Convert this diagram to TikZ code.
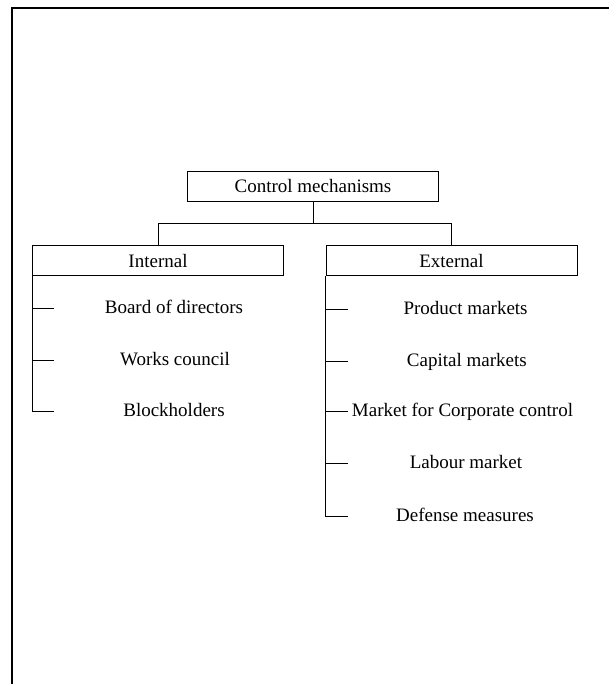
\documentclass[tikz,border=0pt]{standalone}
\usepackage{fontspec}
\setmainfont{Liberation Serif}
\usepackage{tikz}
\usetikzlibrary{positioning,calc}

\begin{document}
\begin{tikzpicture}[
    x=1pt, y=1pt,
    box/.style={rectangle, draw, line width=0.8pt, inner sep=0pt, minimum width=251pt, minimum height=30pt, font=\fontsize{19}{22}\selectfont},
    item/.style={anchor=base, inner sep=0pt, font=\fontsize{19}{22}\selectfont},
    link/.style={line width=0.8pt},
    frame/.style={line width=2pt}
]
    \useasboundingbox (0,0) rectangle (609,-684);
    \draw[frame] (12,-684) -- (12,-7.7) -- (609,-7.7);

    \node[box] (ctrl) at (313,-186) {Control mechanisms};
    \node[box, below=44pt of ctrl, xshift=-155pt] (int) {Internal};
    \node[box, below=44pt of ctrl, xshift=138.5pt] (ext) {External};

    % internal items
    \node[item] (b1) at (174,-313.5) {Board of directors};
    \node[item] (b2) at (175,-365.8) {Works council};
    \node[item] (b3) at (174,-416.4) {Blockholders};
    \coordinate (bt1) at (54.4,-308.5);
    \coordinate (bt2) at (54.4,-360.8);
    \coordinate (bt3) at (54.4,-411.4);

    % external items
    \node[item] (e1) at (465.6,-314) {Product markets};
    \node[item] (e2) at (466.8,-366) {Capital markets};
    \node[item] (e3) at (462.5,-416.4) {Market for Corporate control};
    \node[item] (e4) at (466,-468.8) {Labour market};
    \node[item] (e5) at (465,-521) {Defense measures};
    \coordinate (et1) at (347.6,-309);
    \coordinate (et2) at (347.6,-361);
    \coordinate (et3) at (347.6,-411.4);
    \coordinate (et4) at (347.6,-463.8);
    \coordinate (et5) at (347.6,-516);

    \draw[link] (ctrl.south) -- ++(0,-22) coordinate (bar);
    \draw[link] (int.north) |- (bar) -| (ext.north);

    \draw[link] (int.south west) |- (bt3);
    \draw[link] (int.south west |- bt1) -- (bt1);
    \draw[link] (int.south west |- bt2) -- (bt2);

    \draw[link] (ext.south west) |- (et5);
    \draw[link] (ext.south west |- et1) -- (et1);
    \draw[link] (ext.south west |- et2) -- (et2);
    \draw[link] (ext.south west |- et3) -- (et3);
    \draw[link] (ext.south west |- et4) -- (et4);
\end{tikzpicture}
\end{document}
